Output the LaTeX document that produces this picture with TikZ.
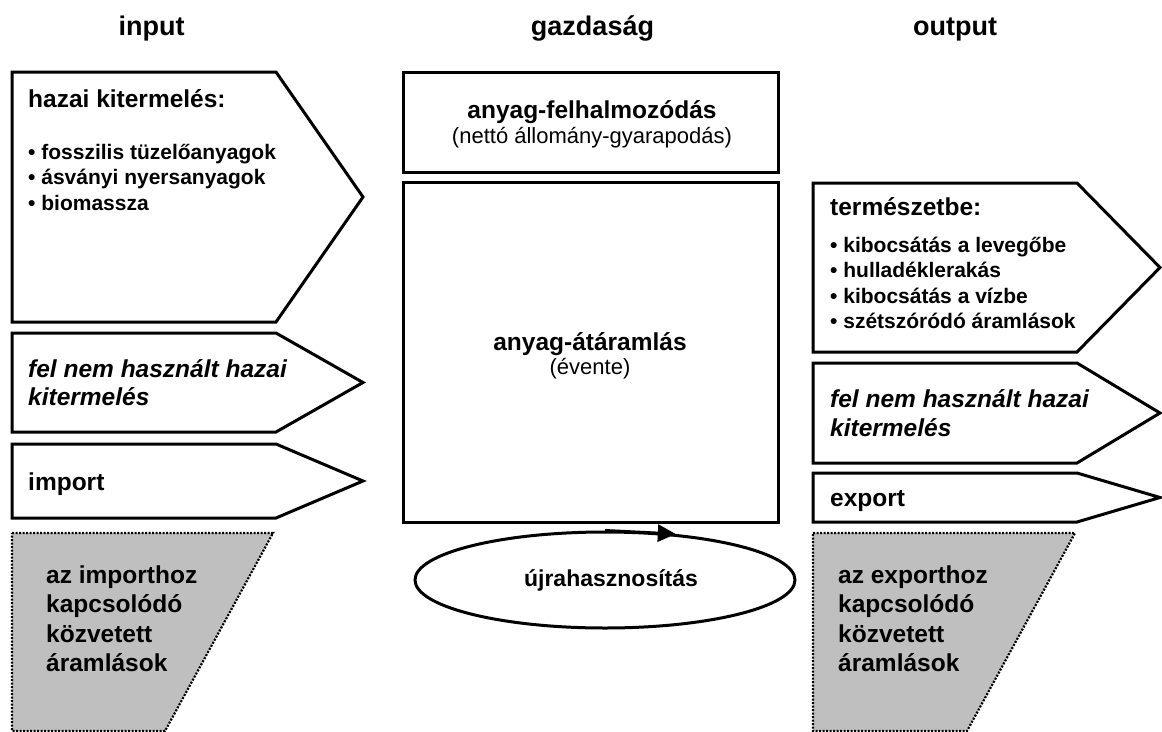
\documentclass[tikz,border=0pt]{standalone}
\usepackage{fontspec}
\setmainfont{Liberation Sans}
\usetikzlibrary{shapes.geometric, arrows.meta}
\newcommand{\flowbox}[5]{
    % #1: left x
    % #2: top y
    % #3: bottom y
    % #4: x of the shoulder
    % #5: x of the tip
    \draw[boxline] (#1,#2) -- (#4,#2) -- (#5,{(#2+#3)/2}) -- (#4,#3) -- (#1,#3) -- cycle;
}
\newcommand{\grayfunnel}[2]{
    % #1: left x
    % #2: right x at the top
    \filldraw[indirect] (#1,533) -- (#2,533) -- ({#2-108},731) -- (#1,731) -- cycle;
}

\begin{document}
\begin{tikzpicture}[x=1pt, y=-1pt]
    % solid outlines of the boxes
    \tikzstyle{boxline}=[line width=3pt, line join=miter]
    % grey boxes with dotted edge
    \tikzstyle{indirect}=[fill=black!25, line width=2.2pt, dash pattern=on 2pt off 1.5pt]
    % texts
    \tikzstyle{coltitle}=[inner sep=0, anchor=base, font=\fontsize{27}{32}\selectfont\bfseries]
    \tikzstyle{head}=[inner sep=0, anchor=base west, font=\fontsize{24.5}{29}\selectfont\bfseries]
    \tikzstyle{headit}=[inner sep=0, anchor=base west, font=\fontsize{24.5}{29}\selectfont\bfseries\itshape]
    \tikzstyle{item}=[inner sep=0, anchor=base west, font=\fontsize{21}{25}\selectfont\bfseries]
    \tikzstyle{midhead}=[inner sep=0, anchor=base, font=\fontsize{24.5}{29}\selectfont\bfseries]
    \tikzstyle{midsub}=[inner sep=0, anchor=base, font=\fontsize{22}{26}\selectfont]
    \tikzstyle{recycle}=[ellipse, draw, line width=3pt, inner sep=0, minimum width=380pt, minimum height=96pt, font=\fontsize{23}{27}\selectfont\bfseries]
    \useasboundingbox (0,0) rectangle (1162,731);

    % column titles
    \node[coltitle] (tin) at (151.5,35) {input};
    \node[coltitle] (tecon) at (592.5,35) {gazdaság};
    \node[coltitle] (tout) at (955,35) {output};

    % input side
    \flowbox{12}{72}{322}{276}{363}
    \flowbox{12}{333}{432}{276}{363}
    \flowbox{12}{444}{518}{276}{363}
    \grayfunnel{12}{273}
    \node[head] (dom) at (28,107) {hazai kitermelés:};
    \node[item] (dom1) at (28,159) {• fosszilis tüzelőanyagok};
    \node[item] (dom2) at (28,184.5) {• ásványi nyersanyagok};
    \node[item] (dom3) at (28,210) {• biomassza};
    \node[headit] (unin1) at (28,377) {fel nem használt hazai};
    \node[headit] (unin2) at (28,405) {kitermelés};
    \node[head] (imp) at (28,490) {import};
    \node[head] (impi1) at (46,583) {az importhoz};
    \node[head] (impi2) at (46,612.5) {kapcsolódó};
    \node[head] (impi3) at (46,642) {közvetett};
    \node[head] (impi4) at (46,671.5) {áramlások};

    % economy
    \draw[boxline] (403,72) rectangle (778,172);
    \draw[boxline] (403,182) rectangle (778,522);
    \node[midhead] (acc) at (592,118) {anyag-felhalmozódás};
    \node[midsub] (accsub) at (592,143) {(nettó állomány-gyarapodás)};
    \node[midhead] (thr) at (590,350) {anyag-átáramlás};
    \node[midsub] (thrsub) at (590,374) {(évente)};
    \node[recycle] (recyc) at (605,580) {\hspace*{12pt}újrahasznosítás};
    \draw[line width=3pt, -{Triangle[length=18pt, width=17pt]}] (recyc.north) -- (recyc.33);

    % output side
    \flowbox{813}{183}{352}{1077}{1160}
    \flowbox{813}{363}{463}{1077}{1160}
    \flowbox{813}{473}{522}{1077}{1160}
    \grayfunnel{813}{1075}
    \node[head] (nat) at (830,215) {természetbe:};
    \node[item] (nat1) at (830,252) {• kibocsátás a levegőbe};
    \node[item] (nat2) at (830,277.5) {• hulladéklerakás};
    \node[item] (nat3) at (830,303) {• kibocsátás a vízbe};
    \node[item] (nat4) at (830,328.5) {• szétszóródó áramlások};
    \node[headit] (unout1) at (830,407) {fel nem használt hazai};
    \node[headit] (unout2) at (830,436) {kitermelés};
    \node[head] (exp) at (830,506) {export};
    \node[head] (expi1) at (838,583) {az exporthoz};
    \node[head] (expi2) at (838,612.5) {kapcsolódó};
    \node[head] (expi3) at (838,642) {közvetett};
    \node[head] (expi4) at (838,671.5) {áramlások};
\end{tikzpicture}
\end{document}
